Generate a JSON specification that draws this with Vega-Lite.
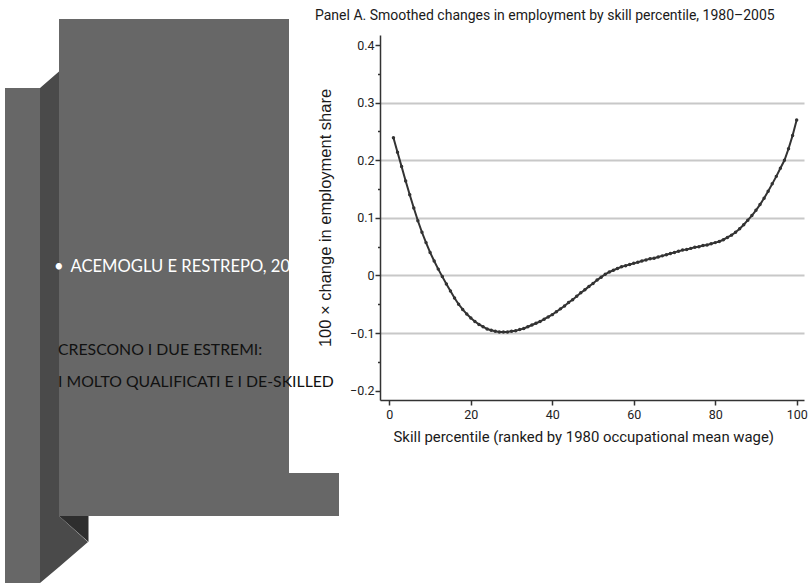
{
  "$schema": "https://vega.github.io/schema/vega-lite/v6.json",
  "width": 424,
  "height": 365,
  "autosize": {"type": "none"},
  "padding": {"left": 380, "top": 35, "right": 4, "bottom": 183},
  "background": "white",
  "config": {"view": {"stroke": null}, "font": "Roboto"},
  "title": {
    "text": "Panel A. Smoothed changes in employment by skill percentile, 1980–2005",
    "anchor": "start",
    "frame": "group",
    "dx": -65,
    "dy": 15,
    "offset": 0,
    "baseline": "alphabetic",
    "font": "Roboto",
    "fontSize": 14,
    "fontWeight": "normal",
    "color": "#1a1a1a"
  },
  "datasets": {
    "curve": [
      {"p": 1, "v": 0.239}, {"p": 2, "v": 0.214}, {"p": 3, "v": 0.189}, {"p": 4, "v": 0.164}, {"p": 5, "v": 0.140},
      {"p": 6, "v": 0.117}, {"p": 7, "v": 0.095}, {"p": 8, "v": 0.075}, {"p": 9, "v": 0.057}, {"p": 10, "v": 0.040},
      {"p": 11, "v": 0.025}, {"p": 12, "v": 0.011}, {"p": 13, "v": -0.002}, {"p": 14, "v": -0.015}, {"p": 15, "v": -0.027},
      {"p": 16, "v": -0.039}, {"p": 17, "v": -0.050}, {"p": 18, "v": -0.059}, {"p": 19, "v": -0.067}, {"p": 20, "v": -0.074},
      {"p": 21, "v": -0.080}, {"p": 22, "v": -0.085}, {"p": 23, "v": -0.089}, {"p": 24, "v": -0.093}, {"p": 25, "v": -0.095},
      {"p": 26, "v": -0.097}, {"p": 27, "v": -0.098}, {"p": 28, "v": -0.098}, {"p": 29, "v": -0.098}, {"p": 30, "v": -0.097},
      {"p": 31, "v": -0.096}, {"p": 32, "v": -0.094}, {"p": 33, "v": -0.092}, {"p": 34, "v": -0.089}, {"p": 35, "v": -0.086},
      {"p": 36, "v": -0.083}, {"p": 37, "v": -0.080}, {"p": 38, "v": -0.076}, {"p": 39, "v": -0.072}, {"p": 40, "v": -0.068},
      {"p": 41, "v": -0.063}, {"p": 42, "v": -0.058}, {"p": 43, "v": -0.053}, {"p": 44, "v": -0.047}, {"p": 45, "v": -0.042},
      {"p": 46, "v": -0.036}, {"p": 47, "v": -0.030}, {"p": 48, "v": -0.025}, {"p": 49, "v": -0.019}, {"p": 50, "v": -0.014},
      {"p": 51, "v": -0.008}, {"p": 52, "v": -0.003}, {"p": 53, "v": 0.002}, {"p": 54, "v": 0.006}, {"p": 55, "v": 0.009},
      {"p": 56, "v": 0.012}, {"p": 57, "v": 0.015}, {"p": 58, "v": 0.017}, {"p": 59, "v": 0.019}, {"p": 60, "v": 0.021},
      {"p": 61, "v": 0.023}, {"p": 62, "v": 0.025}, {"p": 63, "v": 0.027}, {"p": 64, "v": 0.029}, {"p": 65, "v": 0.030},
      {"p": 66, "v": 0.032}, {"p": 67, "v": 0.034}, {"p": 68, "v": 0.036}, {"p": 69, "v": 0.038}, {"p": 70, "v": 0.040},
      {"p": 71, "v": 0.042}, {"p": 72, "v": 0.044}, {"p": 73, "v": 0.045}, {"p": 74, "v": 0.047}, {"p": 75, "v": 0.049},
      {"p": 76, "v": 0.050}, {"p": 77, "v": 0.052}, {"p": 78, "v": 0.053}, {"p": 79, "v": 0.055}, {"p": 80, "v": 0.057},
      {"p": 81, "v": 0.059}, {"p": 82, "v": 0.062}, {"p": 83, "v": 0.066}, {"p": 84, "v": 0.070}, {"p": 85, "v": 0.075},
      {"p": 86, "v": 0.081}, {"p": 87, "v": 0.088}, {"p": 88, "v": 0.096}, {"p": 89, "v": 0.104}, {"p": 90, "v": 0.113},
      {"p": 91, "v": 0.123}, {"p": 92, "v": 0.134}, {"p": 93, "v": 0.146}, {"p": 94, "v": 0.159}, {"p": 95, "v": 0.172},
      {"p": 96, "v": 0.186}, {"p": 97, "v": 0.200}, {"p": 98, "v": 0.220}, {"p": 99, "v": 0.243}, {"p": 100, "v": 0.270}
    ],
    "panels": [
      {"x1": 5, "x2": 40, "y1": 88, "y2": 583},
      {"x1": 59, "x2": 289, "y1": 19, "y2": 516},
      {"x1": 289, "x2": 339, "y1": 473, "y2": 516}
    ],
    "band": [
      {"x": 40, "top": 88, "bot": 583},
      {"x": 59, "top": 71.5, "bot": 567},
      {"x": 59.01, "top": 516, "bot": 567},
      {"x": 88, "top": 542, "bot": 542}
    ],
    "shadow": [
      {"x": 59, "top": 516, "bot": 516},
      {"x": 88.5, "top": 516, "bot": 542}
    ],
    "whiteText": [
      {"t": "•", "x": 54, "y": 271.5},
      {"t": "ACEMOGLU E RESTREPO, 20", "x": 70.5, "y": 271.5}
    ],
    "blackText": [
      {"t": "CRESCONO I DUE ESTREMI:", "x": 58, "y": 355},
      {"t": "I MOLTO QUALIFICATI E I DE-SKILLED", "x": 58, "y": 386.5}
    ]
  },
  "layer": [
    {
      "layer": [
        {
          "data": {"name": "panels"},
          "mark": {"type": "rect", "color": "#676767"},
          "encoding": {
            "x": {"field": "x1", "type": "quantitative", "scale": {"domain": [380, 804], "nice": false, "zero": false}, "axis": null},
            "x2": {"field": "x2"},
            "y": {"field": "y1", "type": "quantitative", "scale": {"domain": [400, 35], "nice": false, "zero": false}, "axis": null},
            "y2": {"field": "y2"}
          }
        },
        {
          "data": {"name": "band"},
          "mark": {"type": "area", "color": "#4a4a4a", "opacity": 1},
          "encoding": {
            "x": {"field": "x", "type": "quantitative", "axis": null},
            "y": {"field": "top", "type": "quantitative", "axis": null},
            "y2": {"field": "bot"}
          }
        },
        {
          "data": {"name": "shadow"},
          "mark": {"type": "area", "color": "#2e2e2e", "opacity": 1},
          "encoding": {
            "x": {"field": "x", "type": "quantitative", "axis": null},
            "y": {"field": "top", "type": "quantitative", "axis": null},
            "y2": {"field": "bot"}
          }
        },
        {
          "data": {"name": "whiteText"},
          "mark": {"type": "text", "align": "left", "baseline": "alphabetic", "font": "Lato", "fontSize": 16.6, "color": "#ffffff"},
          "encoding": {
            "x": {"field": "x", "type": "quantitative", "axis": null},
            "y": {"field": "y", "type": "quantitative", "axis": null},
            "text": {"field": "t"}
          }
        },
        {
          "data": {"name": "blackText"},
          "mark": {"type": "text", "align": "left", "baseline": "alphabetic", "font": "Lato", "fontSize": 15.8, "color": "#111111"},
          "encoding": {
            "x": {"field": "x", "type": "quantitative", "axis": null},
            "y": {"field": "y", "type": "quantitative", "axis": null},
            "text": {"field": "t"}
          }
        }
      ]
    },
    {
      "data": {"name": "curve"},
      "mark": {"type": "line", "color": "#333333", "strokeWidth": 2, "point": {"filled": true, "size": 12, "color": "#333333"}},
      "encoding": {
        "x": {
          "field": "p", "type": "quantitative",
          "scale": {"domain": [-2.3, 101.8], "nice": false, "zero": false},
          "axis": {
            "orient": "bottom", "values": [0, 20, 40, 60, 80, 100], "grid": false,
            "title": "Skill percentile (ranked by 1980 occupational mean wage)",
            "domainColor": "#333", "domainWidth": 1.5, "tickColor": "#333", "tickWidth": 1.5, "tickSize": 5,
            "labelFont": "Roboto", "labelFontSize": 12.5, "labelColor": "#222", "labelPadding": 3,
            "titleFont": "Roboto", "titleFontSize": 14.9, "titleFontWeight": "normal", "titleColor": "#1a1a1a",
            "titleAnchor": "start", "titleAlign": "left", "titleX": 13, "titleY": 41, "titleBaseline": "alphabetic"
          }
        },
        "y": {
          "field": "v", "type": "quantitative",
          "scale": {"domain": [-0.2162, 0.4174], "nice": false, "zero": false},
          "axis": {
            "orient": "left",
            "values": [-0.2, -0.15, -0.1, -0.05, 0, 0.05, 0.1, 0.15, 0.2, 0.25, 0.3, 0.35, 0.4],
            "labelExpr": "abs(datum.value*10 - round(datum.value*10)) < 0.01 ? (abs(datum.value) < 0.001 ? '0' : format(datum.value, '.1f')) : ''",
            "grid": true,
            "gridColor": {"condition": {"test": "abs(datum.value*10 - round(datum.value*10)) < 0.01 && datum.value > -0.15 && datum.value < 0.35", "value": "#c8c8c8"}, "value": "transparent"},
            "gridWidth": 2,
            "tickSize": {"condition": {"test": "abs(datum.value*10 - round(datum.value*10)) < 0.01", "value": 5}, "value": 2.5},
            "domainColor": "#333", "domainWidth": 1.5, "tickColor": "#333", "tickWidth": 1.5,
            "labelFont": "Roboto", "labelFontSize": 12.5, "labelColor": "#222", "labelPadding": 1,
            "title": "100 × change in employment share",
            "titleFont": "Liberation Sans", "titleFontSize": 16.5, "titleFontWeight": "normal", "titleColor": "#1a1a1a",
            "titleAngle": -90, "titleAlign": "center", "titleBaseline": "alphabetic", "titleX": -50, "titleY": 182.5
          }
        }
      }
    }
  ],
  "resolve": {"scale": {"x": "independent", "y": "independent"}, "axis": {"x": "independent", "y": "independent"}}
}
